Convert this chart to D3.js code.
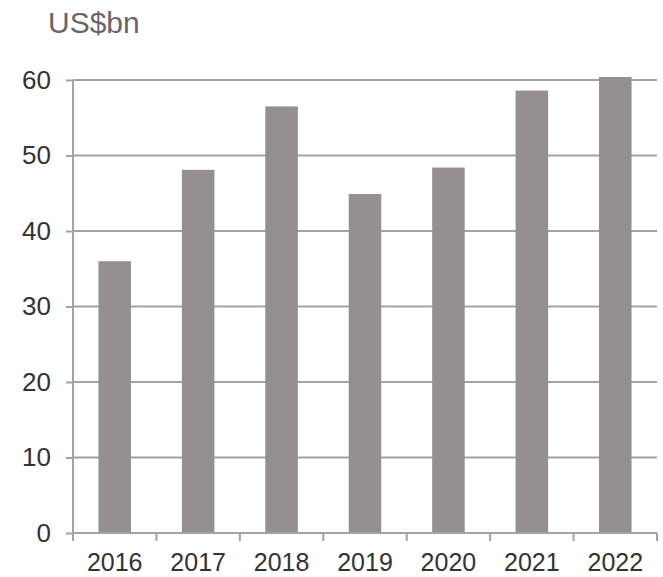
<!DOCTYPE html>
<html>
<head>
<meta charset="utf-8">
<script src="https://cdn.jsdelivr.net/npm/d3@7"></script>
<style>
  body { margin: 0; background: #fff; }
  svg text { font-family: "Liberation Sans", Arial, sans-serif; }
</style>
</head>
<body>
<svg width="663" height="577"></svg>
<script>
const years = ["2016", "2017", "2018", "2019", "2020", "2021", "2022"];
const values = [36.0, 48.1, 56.5, 44.9, 48.4, 58.6, 60.4];
const yTicks = [0, 10, 20, 30, 40, 50, 60];

const svg = d3.select("svg"),
      margin = { top: 80, right: 6, bottom: 44, left: 73 },
      width = +svg.attr("width") - margin.left - margin.right,
      height = +svg.attr("height") - margin.top - margin.bottom;

const x = d3.scaleBand().domain(years).range([0, width]).paddingInner(0.61).paddingOuter(0.305);
const y = d3.scaleLinear().domain([0, 60]).range([height, 0]);

const g = svg.append("g").attr("transform", `translate(${margin.left},${margin.top})`);

// gridlines
g.append("g").selectAll("line").data(yTicks.filter(d => d > 0)).join("line")
    .attr("x1", 0).attr("x2", width)
    .attr("y1", d => y(d)).attr("y2", d => y(d))
    .attr("stroke", "#a3a3a3").attr("stroke-width", 2);

// bars
g.append("g").selectAll("rect").data(years).join("rect")
    .attr("x", d => x(d))
    .attr("y", (d, i) => y(values[i]))
    .attr("width", x.bandwidth())
    .attr("height", (d, i) => height - y(values[i]))
    .attr("fill", "#958f91");

// y axis
const yAxis = g.append("g").call(d3.axisLeft(y).tickValues(yTicks).tickSize(7).tickPadding(15));
yAxis.select(".domain").attr("stroke", "#a3a3a3").attr("stroke-width", 2).attr("d", `M0,${height}V0`);
yAxis.selectAll(".tick line").attr("stroke", "#a3a3a3").attr("stroke-width", 2);
yAxis.selectAll(".tick text").attr("fill", "#333").style("font-size", "26px");

// x axis
const xAxis = g.append("g").attr("transform", `translate(0,${height})`)
    .call(d3.axisBottom(x).tickSize(0).tickPadding(20));
xAxis.select(".domain").attr("stroke", "#a3a3a3").attr("stroke-width", 2).attr("d", `M0,0H${width}`);
xAxis.selectAll(".tick text").attr("fill", "#333").style("font-size", "25px");
const step = x.step();
xAxis.append("g").selectAll("line").data(d3.range(years.length + 1)).join("line")
    .attr("x1", d => d * step).attr("x2", d => d * step)
    .attr("y1", 0).attr("y2", 8)
    .attr("stroke", "#a3a3a3").attr("stroke-width", 2);

// unit label
svg.append("text")
    .attr("x", 48).attr("y", 33)
    .attr("fill", "#6b6567")
    .style("font-size", "30px")
    .text("US$bn");
</script>
</body>
</html>
